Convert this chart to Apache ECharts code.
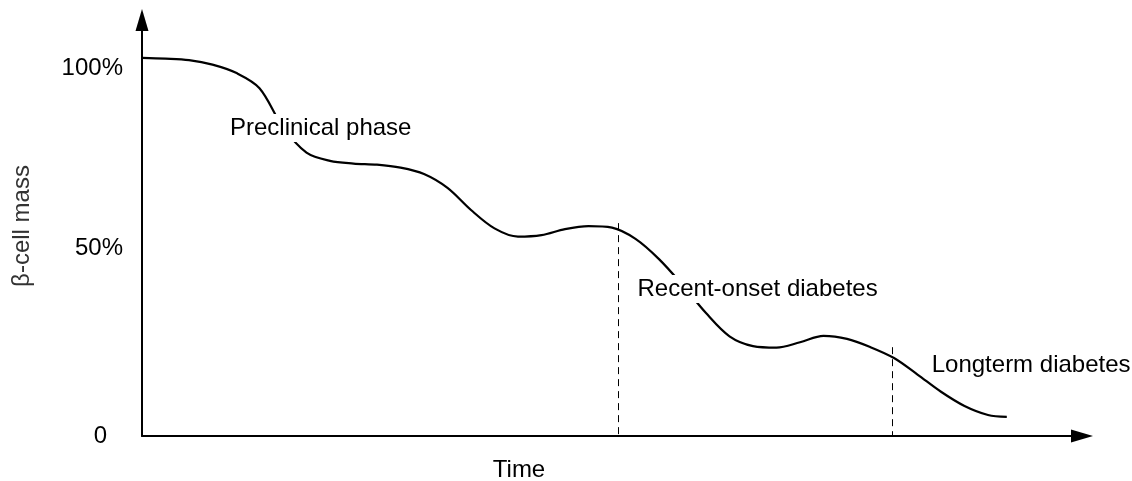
<!DOCTYPE html>
<html>
<head>
<meta charset="utf-8">
<script src="https://cdn.jsdelivr.net/npm/echarts@6/dist/echarts.min.js"></script>
<style>
  html, body { margin: 0; padding: 0; background: #fff; }
  #main { width: 1132px; height: 481px; }
</style>
</head>
<body>
<div id="main"></div>
<script>
// curve (time in 0..100, mass in %)
var timeVals = [0, 2.5, 5, 7.5, 10, 12.5, 15, 17.5, 20, 22.5, 25, 27.5, 30, 32.5, 35,
    37.5, 40, 42.5, 45, 47.5, 50, 52.5, 55, 57.5, 60, 62.5, 65, 67.5, 70, 72.5, 75, 77.5,
    80, 82.5, 85, 87.5, 90, 92];
var massVals = [100.9, 100.7, 100.3, 99.1, 96.9, 92.8, 82.4, 75.6, 73.4, 72.7, 72.4, 71.6, 69.9, 66.2, 60.3,
    55.4, 53.2, 53.6, 55.2, 56.0, 55.6, 52.6, 47.2, 40.3, 32.8, 26.6, 24.0, 23.6, 25.0, 26.7, 25.9, 23.7,
    20.8, 16.4, 11.8, 8.0, 5.6, 5.1];

// phase boundaries (dashed)
var phaseX = [50.7, 79.8];
var phaseTop = [56.8, 23.7];

// phase names and where they sit
var phaseNames = ['Preclinical phase', 'Recent-onset diabetes', 'Longterm diabetes'];
var phaseNameX = [9.15, 52.5, 83.8];
var phaseNameY = [82.2, 39.2, 18.9];

// y tick labels
var yTickValues = [0, 50, 98];
var yTickLabels = ['0', '50%', '100%'];

var chart = echarts.init(document.getElementById('main'));

var curve = [];
for (var i = 0; i < timeVals.length; i++) {
    curve.push([timeVals[i], massVals[i]]);
}

var dashes = [];
for (var j = 0; j < phaseX.length; j++) {
    dashes.push([{ coord: [phaseX[j], phaseTop[j]] }, { coord: [phaseX[j], 0] }]);
}

var names = [];
for (var k = 0; k < phaseNames.length; k++) {
    names.push({ name: phaseNames[k], value: [phaseNameX[k], phaseNameY[k]] });
}

var txt = '#000';
var font = 'Liberation Sans, Arial, sans-serif';
var fs = 24;

var option = {
    animation: false,
    backgroundColor: '#fff',
    grid: {
        left: 142,
        right: 50,
        top: 20,
        bottom: 45,
        outerBoundsMode: 'none'
    },
    xAxis: {
        type: 'value',
        min: 0,
        max: 100,
        name: 'Time',
        nameLocation: 'middle',
        nameGap: 22,
        nameTextStyle: {
            fontSize: fs,
            fontFamily: font,
            color: txt,
            padding: [0, 186, 0, 0]
        },
        axisLine: {
            lineStyle: { color: '#000', width: 2 },
            symbol: ['none', 'triangle'],
            symbolSize: [13, 22]
        },
        axisTick: { show: false },
        axisLabel: { show: false },
        splitLine: { show: false }
    },
    yAxis: {
        type: 'value',
        min: 0,
        max: 111,
        name: 'β-cell mass',
        nameLocation: 'middle',
        nameRotate: 90,
        nameGap: 108,
        nameTextStyle: {
            fontSize: fs,
            fontFamily: font,
            color: '#333',
            padding: [0, 0, 0, 4]
        },
        axisLine: {
            show: true,
            lineStyle: { color: '#000', width: 2 },
            symbol: ['none', 'triangle'],
            symbolSize: [13, 22]
        },
        axisTick: { show: false },
        splitLine: { show: false },
        axisLabel: {
            customValues: yTickValues,
            margin: 19,
            fontSize: fs,
            fontFamily: font,
            color: txt,
            formatter: function (v) {
                var idx = yTickValues.indexOf(v);
                var s = idx >= 0 ? yTickLabels[idx] : '';
                return v === 0 ? '{z|' + s + '}' : s;
            },
            rich: {
                z: { fontSize: fs, fontFamily: font, color: txt, padding: [0, 16, 0, 0] }
            }
        }
    },
    series: [{
        type: 'line',
        data: curve,
        smooth: 0.33,
        showSymbol: false,
        lineStyle: { color: '#000', width: 2.2 },
        z: 2,
        markLine: {
            silent: true,
            symbol: 'none',
            label: { show: false },
            lineStyle: { color: '#000', width: 1, type: [7, 5] },
            data: dashes
        }
    }, {
        type: 'scatter',
        data: names,
        symbolSize: 0,
        itemStyle: { opacity: 1 },
        z: 5,
        label: {
            show: true,
            position: 'right',
            distance: 0,
            formatter: '{b}',
            fontSize: fs,
            fontFamily: font,
            color: txt,
            opacity: 1,
            backgroundColor: '#fff',
            padding: [2, 2]
        }
    }]
};
chart.setOption(option);
</script>
</body>
</html>
